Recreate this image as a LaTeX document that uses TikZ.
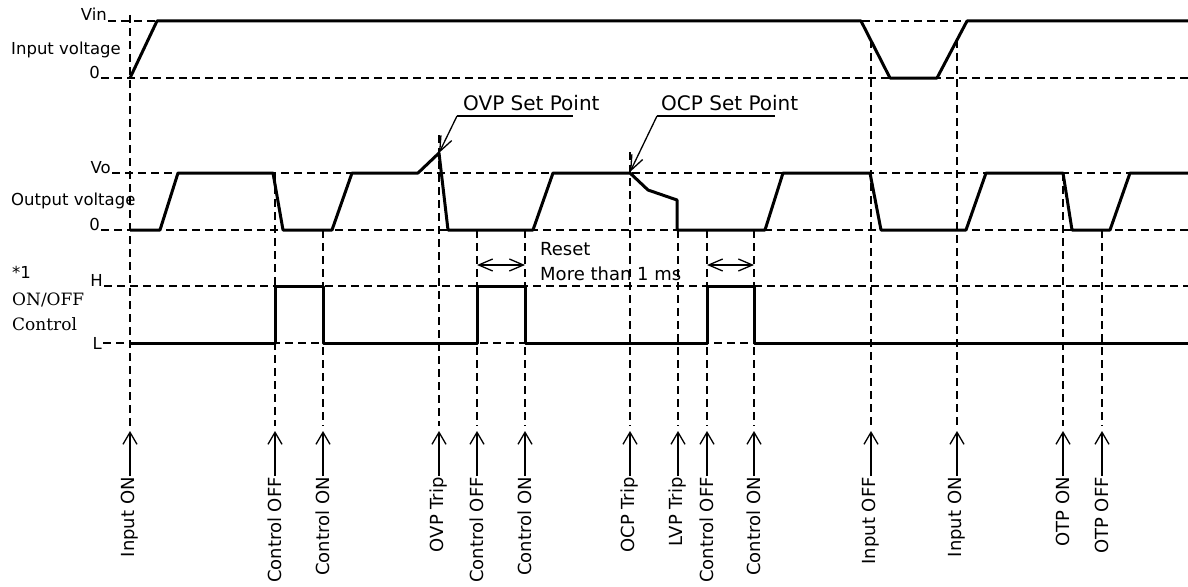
\documentclass[tikz,border=0pt]{standalone}
\usepackage{fontspec}
\setmainfont{DejaVu Sans}
\newfontfamily\serifcap{DejaVu Serif}
\usetikzlibrary{arrows.meta}

\tikzstyle{wave}=[line width=3pt, line join=round]
\tikzstyle{guide}=[line width=1.4pt, dash pattern=on 8pt off 5pt]
\tikzstyle{event}=[-{Straight Barb[length=12pt,width=14pt]}, line width=1.3pt]
\tikzstyle{evlabel}=[rotate=90, anchor=east, inner sep=1pt, font=\fontsize{18}{21}\selectfont]
\tikzstyle{lvllabel}=[anchor=base east, inner sep=1pt, font=\fontsize{16.5}{19}\selectfont]
\tikzstyle{siglabel}=[anchor=base west, inner sep=0pt, font=\fontsize{16.5}{19}\selectfont]
\tikzstyle{setpt}=[anchor=base west, inner sep=0pt, font=\fontsize{20}{24}\selectfont]
\tikzstyle{lead}=[line width=1.3pt]
\tikzstyle{spanarrow}=[{Straight Barb[length=14pt,width=12pt]}-{Straight Barb[length=14pt,width=12pt]}, line width=1.3pt]

\begin{document}
\begin{tikzpicture}[x=1pt, y=-1pt]
  \useasboundingbox (0,0) rectangle (1188,586);
  \coordinate (R) at (1188,0);

  % level marks
  \node[lvllabel] (vin) at (108,21) {Vin};
  \node[lvllabel] (in0) at (101,78) {0};
  \node[lvllabel] (vo) at (112,173) {Vo};
  \node[lvllabel] (out0) at (101,230) {0};
  \node[lvllabel] (hi) at (104,286) {H};
  \node[lvllabel, anchor=east] (lo) at (103,343) {L};
  \foreach \n in {vin, in0, vo, out0, hi}
    \draw[guide] (\n.base east) -- (\n.base east -| R);
  \draw[guide] (lo.east) -- (lo.east -| R);

  % signal names
  \node[siglabel] (inv) at (11,55) {Input voltage};
  \node[siglabel] (outv) at (11,205) {Output voltage};
  \node[siglabel] (note) at (12,278) {*1};
  \node[siglabel, font=\serifcap\fontsize{17}{20}\selectfont] (onoff) at (12,305) {ON/OFF};
  \node[siglabel, font=\serifcap\fontsize{17}{20}\selectfont] (ctrl) at (12,330) {Control};

  % events
  \foreach \x/\top/\txt [count=\i] in {130/15/Input ON, 275/173/Control OFF,
      323/230/Control ON, 439/135/OVP Trip, 477/230/Control OFF,
      525/230/Control ON, 630/152/OCP Trip, 678/230/LVP Trip,
      707/230/Control OFF, 754/230/Control ON, 871/40/Input OFF,
      957/40/Input ON, 1063/173/OTP ON, 1102/230/OTP OFF} {
    \node[evlabel] (ev\i) at (\x,476) {\txt};
    \coordinate (tip\i) at (\x,431);
    \draw[guide] (\x,\top) -- (\x,426);
    \draw[event] (ev\i) -- (tip\i);
  }

  % waveforms
  \draw[wave] (130,78) -- (157,21) -- (861,21) -- (890,78) -- (937,78)
    -- (967,21) -- (1188,21);
  \draw[wave] (130,230) -- (160,230) -- (178,173) -- (273,173) -- (283,230)
    -- (332,230) -- (352,173) -- (418,173) -- (439,153) -- (448,230)
    -- (533,230) -- (553,173) -- (630,173) -- (648,190) -- (677,200)
    -- (677,230) -- (765,230) -- (783,173) -- (870,173) -- (881,230)
    -- (966,230) -- (986,173) -- (1063,173) -- (1072,230) -- (1110,230)
    -- (1130,173) -- (1188,173);
  \draw[wave] (130,343) -| (275,286) -| (323,343) -| (477,286) -| (525,343)
    -| (707,286) -| (754,343) -- (1188,343);

  % set points
  \node[setpt] (ovp) at (463,110) {OVP Set Point};
  \node[setpt] (ocp) at (661,110) {OCP Set Point};
  \coordinate (ovpul) at (457,116);
  \coordinate (ovppt) at (439,153);
  \coordinate (ocpul) at (657,116);
  \coordinate (ocppt) at (630,172);
  \draw[lead] (ovpul) -- ++(116,0);
  \draw[lead, -{Straight Barb[length=15pt,width=12pt]}] (ovpul) -- (ovppt);
  \draw[lead] (ocpul) -- ++(118,0);
  \draw[lead, -{Straight Barb[length=15pt,width=12pt]}] (ocpul) -- (ocppt);

  % reset time
  \node[setpt, font=\fontsize{18}{21}\selectfont] (reset) at (540,255) {Reset};
  \node[setpt, font=\fontsize{18}{21}\selectfont] (more) at (540,280) {More than 1 ms};
  \draw[spanarrow] (477,265) -- (525,265);
  \draw[spanarrow] (707,265) -- (754,265);
\end{tikzpicture}
\end{document}
